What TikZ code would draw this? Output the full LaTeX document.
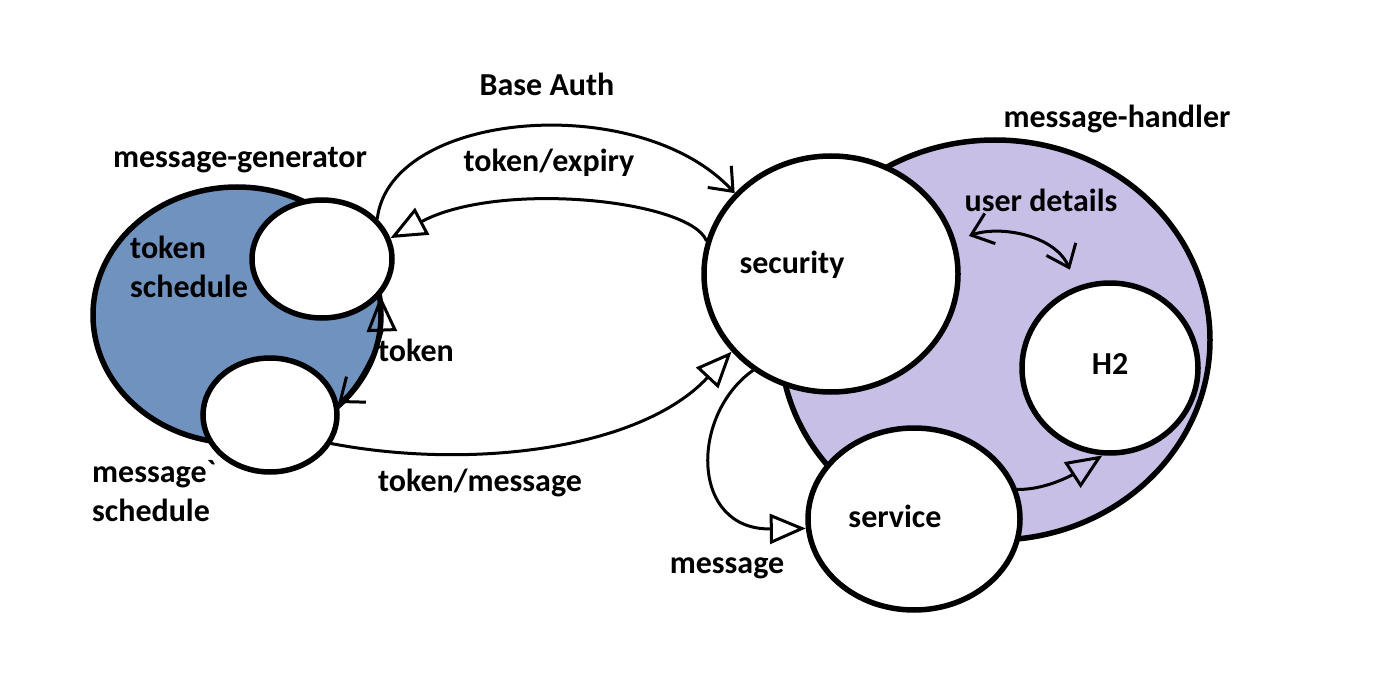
\documentclass[tikz,border=0pt]{standalone}
\usepackage{fontspec}
\setmainfont{Carlito}
\usetikzlibrary{shapes.geometric,arrows.meta}
\definecolor{genblue}{HTML}{7092BE}
\definecolor{lav}{HTML}{C8BFE7}
\tikzset{
  mybarb/.tip={Straight Barb[length=20pt,width=32pt,line width=3pt]},
  mytri/.tip={Triangle[open,length=36pt,width=30pt,line width=3pt]}
}
\begin{document}
\begin{tikzpicture}[x=1pt,y=-1pt,
  blob/.style={ellipse, draw, line width=5.5pt, inner sep=0pt},
  lbl/.style={font=\bfseries\fontsize{32}{39}\selectfont, align=left, inner sep=0pt, text=black},
  conn/.style={line width=3pt, line cap=round}]
\useasboundingbox (0,0) rectangle (1382,698);
% message-generator
\node[blob, fill=genblue, minimum width=288pt, minimum height=256pt] (gen) at (237,315) {};
\node[blob, fill=white, minimum width=140pt, minimum height=118pt] (ts) at (322,259) {};
\node[blob, fill=white, minimum width=134pt, minimum height=114pt] (ms) at (270,415) {};
% message-handler
\node[blob, fill=lav, minimum width=430pt, minimum height=400pt] (hand) at (995,340) {};
\node[blob, fill=white, minimum width=254pt, minimum height=236pt] (sec) at (831,274) {};
\node[blob, fill=white, minimum width=212pt, minimum height=182pt] (svc) at (914,519) {};
\node[blob, fill=white, minimum width=176pt, minimum height=170pt] (h2) at (1110,368) {};
% labels
\node[lbl] (tBase) at (547,84) {Base Auth};
\node[lbl] (tExp) at (549,163) {token/expiry};
\node[lbl] (tGen) at (240,160) {message-generator};
\node[lbl] (tHand) at (1117,119) {message-handler};
\node[lbl] (tUser) at (1041,200) {user details};
\node[lbl] (tSec) at (792,265) {security};
\node[lbl] (tH2) at (1110,364) {H2};
\node[lbl] (tSvc) at (895,516) {service};
\node[lbl] (tMsg) at (727,568) {message};
\node[lbl] (tTM) at (480,483) {token/message};
\node[lbl] (tTok) at (416,350) {token};
\node[lbl, anchor=west] (tTS) at (130,267) {token\\schedule};
\node[lbl, anchor=west] (tMS) at (92,491) {message\textasciigrave\\schedule};
% connectors
\draw[conn, -mybarb] (ts.36) .. controls (390,110) and (640,90) .. (sec.140);
\draw[conn, -mytri] (sec.165) .. controls (690,200) and (500,180) .. (ts.17);
\draw[conn, mytri-mybarb] (ts.-32) .. controls (382,335) and (362,385) .. (ms.10);
\draw[conn, -mytri] (ms.-25) .. controls (470,470) and (640,450) .. (sec.218);
\draw[conn, -mytri] (sec.231) .. controls (690,415) and (690,530) .. (svc.185);
\draw[conn, -mytri] (svc.16) .. controls (1050,490) and (1080,470) .. (h2.265);
\draw[conn, mybarb-mybarb, shorten <=14pt, shorten >=18pt] (sec.15) .. controls (1000,225) and (1055,235) .. (h2.112);
\end{tikzpicture}
\end{document}
